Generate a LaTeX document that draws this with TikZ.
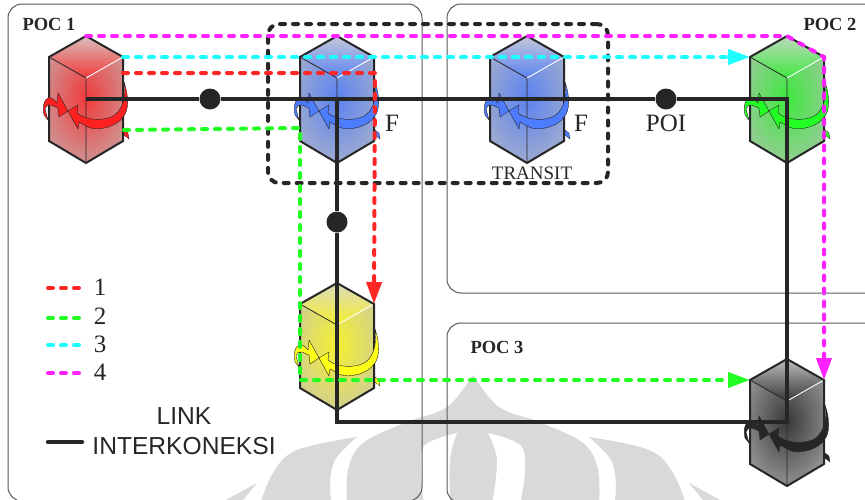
\documentclass[tikz,border=0pt]{standalone}
\usepackage{fontspec}
\setmainfont{Liberation Serif}
\setsansfont{Liberation Sans}
\usetikzlibrary{arrows.meta}
\definecolor{ink}{HTML}{262626}
\definecolor{wm}{HTML}{D9D9D9}
\definecolor{frameg}{HTML}{5A5A5A}
\definecolor{cred}{HTML}{F03A3A}\definecolor{sred}{HTML}{FF2020}
\definecolor{cblue}{HTML}{5B82F0}\definecolor{sblue}{HTML}{4D7CFF}
\definecolor{cgreen}{HTML}{3EE83E}\definecolor{sgreen}{HTML}{22FF22}
\definecolor{cyellow}{HTML}{F5F030}\definecolor{syellow}{HTML}{FFFF1A}
\definecolor{cblack}{HTML}{383838}\definecolor{sblack}{HTML}{262626}
\definecolor{mred}{HTML}{FF2626}\definecolor{mgreen}{HTML}{22FF22}
\definecolor{mcyan}{HTML}{1FFFFF}\definecolor{mmag}{HTML}{FF22FF}
\tikzset{
  pocframe/.style={draw=frameg,line width=1pt,rounded corners=14pt,outer sep=0pt},
  route/.style={line width=4pt,line cap=round,dash pattern=on 5pt off 8pt},
  routehead/.style={-{Triangle[length=22pt,width=15pt]}},
  transitbox/.style={draw=ink,line width=4pt,line cap=round,dash pattern=on 5pt off 8pt,rounded corners=11pt,outer sep=0pt},
  link/.style={draw=ink,line width=4.5pt,line join=miter},
  poidot/.style={circle,fill=ink,draw=none,minimum size=21pt,inner sep=0pt},
  poctext/.style={font=\rmfamily\bfseries\fontsize{18.5}{18.5}\selectfont,text=ink,inner sep=0pt},
  lbl/.style={font=\rmfamily\fontsize{25}{25}\selectfont,text=ink,inner sep=0pt},
  sanslbl/.style={font=\sffamily\fontsize{24.6}{25}\selectfont,text=ink,inner sep=0pt},
}
% #1 name, #2 x, #3 y, #4 face colour, #5 swirl colour
\newcommand{\switchcube}[5]{%
\begin{scope}[shift={(#2,#3)}]
  \coordinate (#1top) at (0,0);
  \coordinate (#1left) at (-37,21);
  \coordinate (#1right) at (37,21);
  \coordinate (#1hub) at (0,63);
  \begin{scope}
    \clip (-37,21) -- (0,42) -- (37,21) -- (37,105) -- (0,127) -- (-37,105) -- cycle;
    \fill[#4!25!lightgray] (-38,15) rectangle (38,130);
    \shade[inner color=#4,outer color=#4!25!lightgray] (0,62) ellipse (52 and 74);
  \end{scope}
  \shade[top color=#4!22!lightgray!70!white,bottom color=#4]
     (0,0) -- (37,21) -- (0,42) -- (-37,21) -- cycle;
  \draw[ink,line width=.8pt] (-37,21) -- (0,42) -- (0,127);
  \draw[white,line width=.9pt] (0,42) -- (37,21);
  \draw[ink,line width=2pt,line join=miter] (0,0) -- (37,21) -- (37,105) -- (0,127) -- (-37,105) -- (-37,21) -- cycle;
  \filldraw[draw=ink,fill=#5,line width=.4pt]
     (38,46) .. controls (43,60) and (43,75) .. (37,81)
     .. controls (32,90) and (12,96) .. (2,91)
     -- (-7,86) -- (-8,93) -- (-18,75) -- (-8,69) -- (-9,77)
     .. controls (-2,83) and (12,85) .. (22,82)
     .. controls (32,80) and (41,68) .. (38,46) -- cycle;
  \filldraw[draw=ink,fill=#5,line width=.4pt]
     (-18,75) -- (-28,57) -- (-29,67)
     .. controls (-33,62) and (-36,61) .. (-38,62)
     .. controls (-42,63) and (-44,72) .. (-42,79)
     -- (-38,84) -- (-41,73)
     .. controls (-39,69) and (-37,68) .. (-35,69)
     -- (-28,72) -- (-27,81) -- cycle;
  \filldraw[draw=ink,fill=#5,line width=.3pt]
     (38,94) -- (42,97) -- (43,103) -- (38,99) -- cycle;
\end{scope}}
\begin{document}
\begin{tikzpicture}[x=1pt,y=-1pt]
\useasboundingbox (0,0) rectangle (865,499);
\clip (0,0) rectangle (865,499);
\fill[white] (0,0) rectangle (865,499);
% watermark
\fill[wm] plot[smooth,tension=.6] coordinates {(473,375) (447,407) (407,422) (363,443) (348,470) (347,510)}
  -- plot[smooth,tension=.6] coordinates {(599,510) (598,470) (583,443) (539,422) (499,407) (473,375)} -- cycle;
\fill[wm] plot[smooth,tension=.6] coordinates {(357,437) (297,450) (273,473) (258,510)}
  -- plot[smooth,tension=.6] coordinates {(333,510) (330,487) (335,460) (357,437)} -- cycle;
\fill[wm] plot[smooth,tension=.6] coordinates {(589,437) (649,450) (673,473) (688,510)}
  -- plot[smooth,tension=.6] coordinates {(613,510) (616,487) (611,460) (589,437)} -- cycle;
\fill[wm] (257,483) -- (226,500) -- (243,500) -- cycle;
\fill[wm] (689,483) -- (720,500) -- (703,500) -- cycle;
\fill[white] plot[smooth,tension=.6] coordinates {(457,433) (425,445) (421,470) (424,505)}
  -- plot[smooth,tension=.6] coordinates {(450,505) (450,460) (457,433)} -- cycle;
\fill[white] plot[smooth,tension=.6] coordinates {(488,433) (520,445) (525,470) (520,505)}
  -- plot[smooth,tension=.6] coordinates {(492,505) (497,460) (488,433)} -- cycle;
% POC frames
\node[pocframe,inner sep=0pt,minimum width=414pt,minimum height=497pt,anchor=north west] (poc1) at (8,4) {};
\node[pocframe,inner sep=0pt,minimum width=440pt,minimum height=289pt,anchor=north west] (poc2) at (447,4) {};
\node[pocframe,inner sep=0pt,minimum width=440pt,minimum height=180pt,anchor=north west] (poc3) at (447,323) {};
% transit box
\node[transitbox,inner sep=0pt,minimum width=340pt,minimum height=159pt,anchor=north west] (transitarea) at (268,24) {};
% cubes
\switchcube{r}{86}{36}{cred}{sred}
\switchcube{b}{337}{36}{cblue}{sblue}
\switchcube{t}{527}{36}{cblue}{sblue}
\switchcube{g}{787}{36}{cgreen}{sgreen}
\switchcube{y}{337}{283}{cyellow}{syellow}
\switchcube{k}{787}{359}{cblack}{sblack}
% way points
\coordinate (corner) at (337,422);
\coordinate (redstart) at (123,73);
\coordinate (redbend) at (375,73);
\coordinate (greenstart) at (124,130);
\coordinate (greenbendA) at (300,128);
\coordinate (greenbendB) at (300,380);
% links
\node[poidot] (dotA) at (210,99) {};
\node[poidot] (dotB) at (666,99) {};
\node[poidot] (dotC) at (337,222) {};
\draw[link] (rhub) -- (dotA) -- (bhub) -- (thub) -- (dotB) -- (ghub) -- (khub) -- (corner) -- (yhub) -- (dotC) -- (bhub);
% routes
\draw[route,mred,routehead] (redstart) -- (redbend) -- (yright);
\draw[route,mgreen,routehead] (greenstart) -- (greenbendA) -- (greenbendB) -- (kleft);
\draw[route,mcyan,routehead] (rright) -- (gleft);
\draw[route,mmag,routehead] (rtop) -- (gtop) -- (gright) -- (kright);
% labels
\node[poctext] (lblA) at (49,24) {POC 1};
\node[poctext] (lblB) at (830,24) {POC 2};
\node[poctext] (lblC) at (497,347) {POC 3};
\node[lbl] (fA) at (392,123) {F};
\node[lbl] (fB) at (581,123) {F};
\node[lbl] (poi) at (666,123) {POI};
\node[font=\rmfamily\fontsize{19}{19}\selectfont,text=ink,inner sep=0pt] (transit) at (532,173) {TRANSIT};
% legend
\coordinate (legA1) at (48,288); \coordinate (legA2) at (82,288);
\coordinate (legB1) at (48,318); \coordinate (legB2) at (82,318);
\coordinate (legC1) at (48,345); \coordinate (legC2) at (82,345);
\coordinate (legD1) at (48,373); \coordinate (legD2) at (82,373);
\coordinate (legE1) at (48,442); \coordinate (legE2) at (82,442);
\draw[route,mred] (legA1) -- (legA2);
\draw[route,mgreen] (legB1) -- (legB2);
\draw[route,mcyan] (legC1) -- (legC2);
\draw[route,mmag] (legD1) -- (legD2);
\draw[ink,line width=4.5pt,line cap=round] (legE1) -- (legE2);
\node[lbl] (one) at (100,287) {1};
\node[lbl] (two) at (100,316) {2};
\node[lbl] (three) at (100,344) {3};
\node[lbl] (four) at (100,372) {4};
\node[sanslbl] (linktext) at (184,416) {LINK};
\node[sanslbl] (intertext) at (184,446) {INTERKONEKSI};
\end{tikzpicture}
\end{document}
